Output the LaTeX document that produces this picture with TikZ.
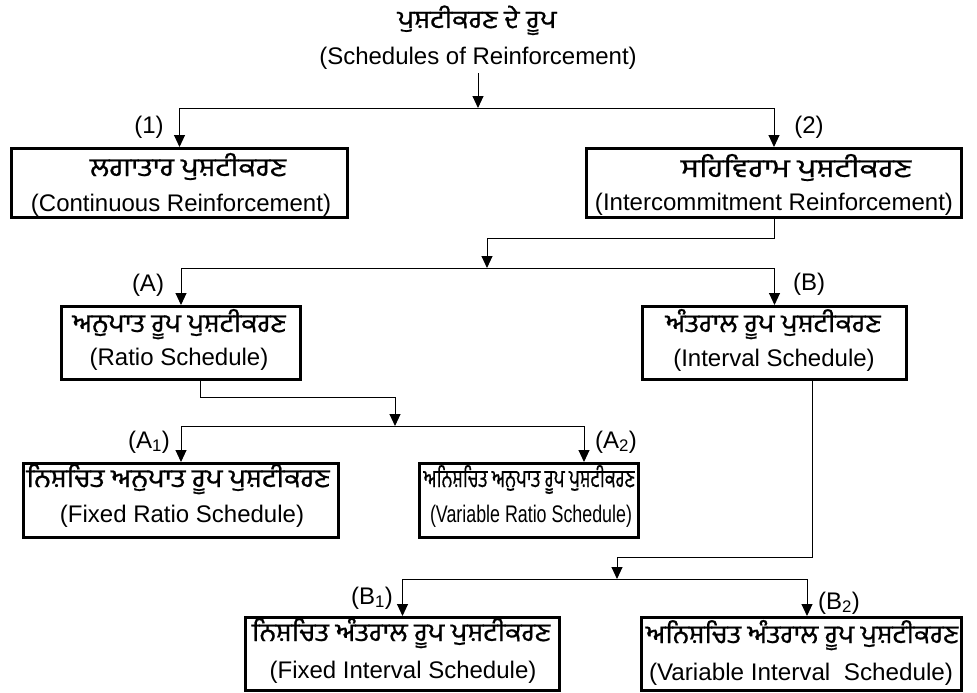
\documentclass[tikz,border=0pt]{standalone}
\usepackage{graphicx}
\usepackage{fontspec}
\setmainfont{Liberation Sans}
\newfontfamily\gur[Script=Gurmukhi,FakeBold=0.8]{Hind Jalandhar}
\usetikzlibrary{arrows.meta}
\newcommand\gtxt[3][23]{\raisebox{0pt}[\height][4pt]{\resizebox{#2pt}{#1pt}{\gur #3}}}
\newcommand\etxt[2]{\resizebox{#1pt}{\height}{#2}}
\begin{document}
\begin{tikzpicture}[x=1pt,y=-1pt,
  box/.style={draw, line width=2.6pt, inner sep=0pt},
  conn/.style={line width=1pt},
  arr/.style={conn, -{Triangle[width=11pt,length=12pt]}},
  eng/.style={font=\fontsize{24}{28}\selectfont, inner sep=0pt, anchor=base},
  gt/.style={inner sep=0pt, anchor=base},
  lab/.style={font=\fontsize{24}{28}\selectfont, inner sep=0pt}]
\useasboundingbox (0,0) rectangle (977,693);
% title
\node[gt] (tg) at (477,28) {\gtxt[22.5]{159}{ਪੁਸ਼ਟੀਕਰਣ ਦੇ ਰੂਪ}};
\node[eng] (te) at (478,65) {(Schedules of Reinforcement)};
% boxes
\node[box, minimum width=336.4pt, minimum height=69.4pt] (b1) at (179.5,183) {};
\node[box, minimum width=375.4pt, minimum height=69.4pt] (b2) at (774,183) {};
\node[box, minimum width=239.4pt, minimum height=73.4pt] (bA) at (181,343) {};
\node[box, minimum width=264.4pt, minimum height=73.4pt] (bB) at (774.5,343) {};
\node[box, minimum width=315.4pt, minimum height=74.4pt] (bA1) at (181,500.5) {};
\node[box, minimum width=219.4pt, minimum height=74.4pt] (bA2) at (529,500.5) {};
\node[box, minimum width=314.4pt, minimum height=73.4pt] (bB1) at (402.5,654) {};
\node[box, minimum width=320.4pt, minimum height=73.4pt] (bB2) at (801.5,654) {};
% box texts
\node[gt] (g1) at (188,176) {\gtxt{196}{ਲਗਾਤਾਰ ਪੁਸ਼ਟੀਕਰਣ}};
\node[eng] (e1) at (181,211) {(Continuous Reinforcement)};
\node[gt] (g2) at (796,177) {\gtxt{230}{ਸਹਿਵਿਰਾਮ ਪੁਸ਼ਟੀਕਰਣ}};
\node[eng] (e2) at (774,210) {\etxt{358}{(Intercommitment Reinforcement)}};
\node[gt] (gA) at (179,332) {\gtxt{213}{ਅਨੁਪਾਤ ਰੂਪ ਪੁਸ਼ਟੀਕਰਣ}};
\node[eng] (eA) at (179,365) {(Ratio Schedule)};
\node[gt] (gB) at (773,332) {\gtxt{215}{ਅੰਤਰਾਲ ਰੂਪ ਪੁਸ਼ਟੀਕਰਣ}};
\node[eng] (eB) at (774,366) {(Interval Schedule)};
\node[gt] (gA1) at (178,487) {\gtxt{303}{ਨਿਸ਼ਚਿਤ ਅਨੁਪਾਤ ਰੂਪ ਪੁਸ਼ਟੀਕਰਣ}};
\node[eng] (eA1) at (182,522) {(Fixed Ratio Schedule)};
\node[gt] (gA2) at (529,487) {\gtxt[22]{211}{ਅਨਿਸ਼ਚਿਤ ਅਨੁਪਾਤ ਰੂਪ ਪੁਸ਼ਟੀਕਰਣ}};
\node[eng] (eA2) at (531,522) {\etxt{202}{(Variable Ratio Schedule)}};
\node[gt] (gB1) at (401,641) {\gtxt{298}{ਨਿਸ਼ਚਿਤ ਅੰਤਰਾਲ ਰੂਪ ਪੁਸ਼ਟੀਕਰਣ}};
\node[eng] (eB1) at (403,678) {(Fixed Interval Schedule)};
\node[gt] (gB2) at (802,643) {\gtxt{312}{ਅਨਿਸ਼ਚਿਤ ਅੰਤਰਾਲ ਰੂਪ ਪੁਸ਼ਟੀਕਰਣ}};
\node[eng] (eB2) at (801,680) {\etxt{304}{(Variable Interval\ \ Schedule)}};
% labels
\node[lab] (l1) at (149,127) {(1)};
\node[lab] (l2) at (809,127) {(2)};
\node[lab] (lA) at (148,285) {(A)};
\node[lab] (lB) at (809,284) {(B)};
\node[lab] (lA1) at (149,442) {(A\textsubscript{1})};
\node[lab] (lA2) at (616,442) {(A\textsubscript{2})};
\node[lab] (lB1) at (372,598) {(B\textsubscript{1})};
\node[lab] (lB2) at (839,603) {(B\textsubscript{2})};
% junction coordinates
\coordinate (j1) at (478,108);
\coordinate (k2) at (487,238);
\coordinate (j2) at (487,268);
\coordinate (a0) at (200,397);
\coordinate (j3) at (395,426);
\coordinate (b0) at (812,557);
\coordinate (j4) at (617,579);
\coordinate (a2in) at (584,462);
\coordinate (b2in) at (807,616);
% connectors
\draw[arr] ([yshift=-3pt]te.south) -- (j1);
\draw[conn] (b1.north |- j1) -- (b2.north |- j1);
\draw[arr] (b1.north |- j1) -- (b1.north);
\draw[arr] (b2.north |- j1) -- (b2.north);
\draw[arr] (b2.south) -- (b2.south |- k2) -- (k2) -- (j2);
\draw[conn] (bA.north |- j2) -- (bB.north |- j2);
\draw[arr] (bA.north |- j2) -- (bA.north);
\draw[arr] (bB.north |- j2) -- (bB.north);
\draw[arr] (a0 |- bA.south) -- (a0) -- (j3 |- a0) -- (j3);
\draw[conn] (bA1.north |- j3) -- (a2in |- j3);
\draw[arr] (bA1.north |- j3) -- (bA1.north);
\draw[arr] (a2in |- j3) -- (a2in |- bA2.north);
\draw[arr] (b0 |- bB.south) -- (b0) -- (j4 |- b0) -- (j4);
\draw[conn] (bB1.north |- j4) -- (b2in |- j4);
\draw[arr] (bB1.north |- j4) -- (bB1.north);
\draw[arr] (b2in |- j4) -- (b2in |- bB2.north);
\end{tikzpicture}
\end{document}
